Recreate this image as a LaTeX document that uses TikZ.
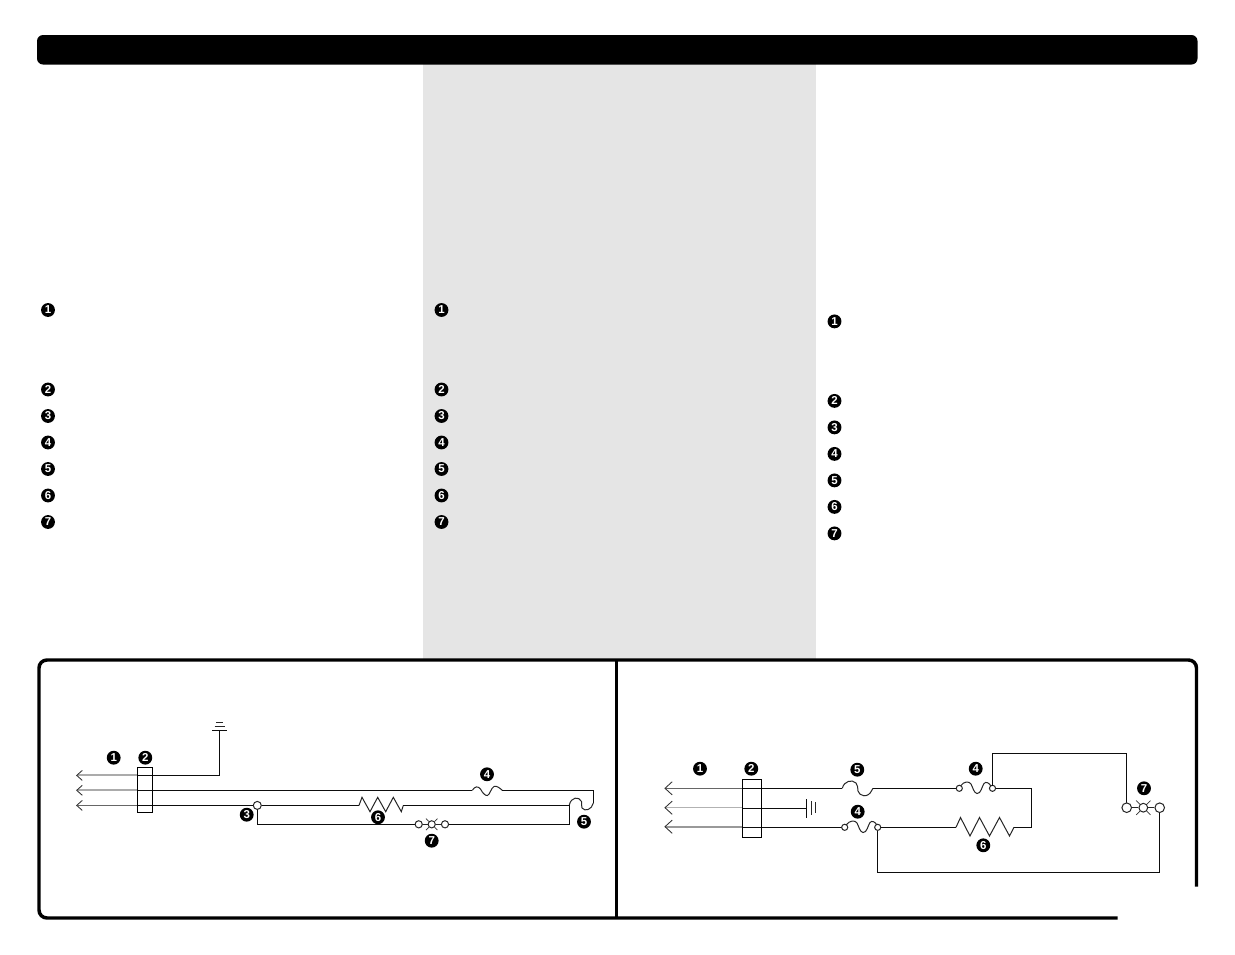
\documentclass[tikz,border=0pt]{standalone}
\usepackage{fontspec}
\setmainfont{Liberation Sans}
\tikzset{
  x=0.75pt,y=-0.75pt,
  badge/.style={circle,fill=black,text=white,inner sep=0pt,minimum size=10.4pt,font=\fontsize{8.6}{9}\selectfont\bfseries},
  wire/.style={line width=1.1pt,draw=black!95},
  part/.style={line width=0.75pt,draw=black!85},
  leadthick/.style={line width=1.6pt,draw=black!33},
  leadthin/.style={line width=1.1pt,draw=black!60},
  headline/.style={line width=0.65pt,draw=black!80},
  frame/.style={line width=2.6pt,draw=black},
  lug/.style={circle,draw=black!85,fill=white,line width=0.75pt,inner sep=0pt},
  lugs/.style={lug,minimum size=4.6pt},
  lugm/.style={lug,minimum size=5.4pt},
  ray/.style={line width=0.55pt,draw=black!80},
}
\newcommand{\arrowhead}[3]{\draw[headline] (#1+#3,#2-#3+0.6) -- (#1,#2) -- (#1+#3,#2+#3-0.6);}
\begin{document}
\begin{tikzpicture}
\useasboundingbox (0,0) rectangle (1235,954);
\fill[white] (0,0) rectangle (1235,954);
\fill[black!10] (423,60) rectangle (816,660);
\fill[black,rounded corners=4.5pt] (37,35) rectangle (1197.5,64.5);
% frame
\coordinate (fbr) at (1117.7,918);
\coordinate (ftr) at (1196.5,886.7);
\draw[frame,rounded corners=6pt] (fbr) -- (39,918) -- (39,660) -- (1196.5,660) -- (ftr);
\coordinate (dt) at (616.5,660);
\coordinate (db) at (616.5,918);
\draw[frame] (dt) -- (db);
% legend badges
\foreach \c/\x/\d in {a/48/0,b/441.5/0,c/834.5/11.4}{
  \foreach \n/\y in {1/310,2/389.5,3/416,4/442.5,5/469,6/495.5,7/522}{
    \node[badge] (\c\n) at (\x,\y+\d) {\n};
  }
}
% LEFT DIAGRAM
\coordinate (l1) at (76.7,775.4);
\coordinate (l2) at (76.7,790.3);
\coordinate (l3) at (76.7,805.4);
\coordinate (l1b) at (137.5,775.4);
\coordinate (l2b) at (137.5,790.3);
\coordinate (l3b) at (137.5,805.4);
\draw[leadthick] (l1) ++(1,0) -- (l1b);
\draw[leadthick] (l2) ++(1,0) -- (l2b);
\draw[leadthin] (l3) ++(1,0) -- (l3b);
\arrowhead{76.7}{775.4}{5.6}
\arrowhead{76.7}{790.3}{5.6}
\arrowhead{76.7}{805.4}{5.6}
\coordinate (lg) at (219.3,731);
\draw[wire] (l1b) -- (219.3,775.4) -- (lg);
\draw[wire] (212,730.7) -- (226.7,730.7);
\draw[part] (214.5,726.5) -- (224.5,726.5);
\draw[part] (216,722.8) -- (223.2,722.8);
\node[lugm,minimum size=6pt] (l3j) at (257.3,805.4) {};
\draw[wire] (l3b) -- (l3j);
\draw[wire] (l2b) -- (472.3,790.3);
\draw[part] (472.3,790.3) .. controls (475,786) and (478,786) .. (480.5,789) .. controls (483,794) and (486,796) .. (487.5,795.5) .. controls (490,794.5) and (491,788) .. (494,786.5) .. controls (497,785.5) and (499.5,788) .. (502.3,790.3);
\draw[wire] (502.3,790.3) -- (593.3,790.3) -- (593.3,803);
% fuse 5 left
\draw[part] (593.3,803) .. controls (592,809.5) and (585,812) .. (582,808) .. controls (581,806) and (582,803) .. (581.5,801.5) .. controls (579,796) and (571,797) .. (569.3,805);
% resistor + lines
\draw[wire] (l3j) -- (359,805.4);
\draw[part] (359,805.4) -- (362,797.3) -- (370,811.7) -- (377.7,797.3) -- (385.7,811.7) -- (393.3,797.3) -- (401.3,811.7) -- (403.3,805.4);
\draw[wire] (403.3,805.4) -- (569.3,805.4) -- (569.3,824.3) -- (449,824.3);
\draw[wire] (l3j) -- (257.3,824.3) -- (415,824.3);
% lamp
\node[lugm] (ll1) at (418.7,824.3) {};
\node[lugm] (ll2) at (445,824.3) {};
\node[lugm] (ll3) at (431.7,824.3) {};
\draw[part] (ll1) -- (ll3);
\draw[part] (ll3) -- (ll2);
\foreach \a in {45,135,225,315}{\draw[ray] (ll3.\a) -- ++(-\a:4);}
% box
\node[draw=black,line width=0.85pt,fill=none,minimum width=15pt*0.75,minimum height=45pt*0.75,inner sep=0pt] (lbox) at (144.8,789.8) {};
% RIGHT DIAGRAM
\draw[leadthin] (666,788.3) -- (742.5,788.3);
\draw[leadthin,draw=black!30] (666,807.7) -- (742.5,807.7);
\draw[leadthick,draw=black!40] (666,826.7) -- (742.5,826.7);
\arrowhead{665}{788.3}{7.2}
\arrowhead{665}{807.7}{7.2}
\arrowhead{665}{826.7}{7.2}
\draw[wire] (742.5,788.3) -- (842.3,788.3);
\draw[part] (842.3,788.3) .. controls (844,781) and (852,779) .. (856,783) .. controls (858,785) and (857.5,788) .. (858,791) .. controls (859,796) and (868,799) .. (872,790) -- (873,788.3);
\draw[wire] (873,788.3) -- (957,788.3);
\draw[wire] (742.5,808.3) -- (806.3,808.3);
\draw[wire] (806.3,799.3) -- (806.3,817.7);
\draw[part] (811,801.3) -- (811,815.3);
\draw[part] (815.7,802.3) -- (815.7,812.7);
\draw[wire] (742.5,827.3) -- (842.5,827.3);
% fuse lower 4
\node[lugs] (rf1) at (844.7,827.3) {};
\node[lugs] (rf2) at (877.7,827.3) {};
\draw[part] (846,825) .. controls (850,820) and (855,820) .. (857,823) .. controls (859,827) and (860,832) .. (863,832.5) .. controls (867,833) and (868,825) .. (870,822.5) .. controls (872,820) and (875,822) .. (877,825);
\draw[wire] (rf2) -- (956,827.3);
\draw[wire] (rf2) -- (877.7,872.3) -- (1159.7,872.3);
\draw[part] (956,827.3) -- (960.5,817.5) -- (970,836) -- (979.5,817.5) -- (989.5,836) -- (999.5,817.5) -- (1009.5,836) -- (1014,827.3);
\draw[wire] (1014,827.3) -- (1031.3,827.3) -- (1031.3,788.3) -- (994.5,788.3);
% fuse upper 4
\node[lugs] (rg1) at (959.3,788.3) {};
\node[lugs] (rg2) at (992.5,788.3) {};
\draw[part] (960.5,786) .. controls (964,781) and (969,781) .. (971,784) .. controls (973,788) and (974,793) .. (977,793.5) .. controls (981,794) and (982,786) .. (984,783.5) .. controls (986,781) and (989,783) .. (991,786);
\draw[wire] (992.3,786) -- (992.3,753.3) -- (1126.7,753.3) -- (1126.7,803);
% lamp
\node[lug,minimum size=7.2pt] (rl1) at (1126.7,807.7) {};
\node[lug,minimum size=7.2pt] (rl2) at (1159.7,807.7) {};
\node[lug,minimum size=6.6pt] (rl3) at (1143.3,807.7) {};
\draw[part] (rl1) -- (rl3);
\draw[part] (rl3) -- (rl2);
\foreach \a in {45,135,225,315}{\draw[ray] (rl3.\a) -- ++(-\a:5.2);}
\draw[wire] (rl2) -- (1159.7,872.3);
\node[draw=black,line width=0.85pt,minimum width=19pt*0.75,minimum height=58pt*0.75,inner sep=0pt] (rbox) at (751.8,808.3) {};
% badges in diagrams
\foreach \n/\t/\x/\y in {p1/1/113.7/757.7,p2/2/145.3/757.7,p3/3/246.7/814.7,p4/4/487/774.3,p5/5/584/821.7,p6/6/378/817.3,p7/7/431.7/840.7,
q1/1/700/768.7,q2/2/751.3/768.7,q5/5/857.3/769.7,q4/4/857.7/811.7,q8/4/975.7/768.7,q7/7/1144/788.3,q6/6/983.3/845.3}{
  \node[badge] (\n) at (\x,\y) {\t};
}
\end{tikzpicture}
\end{document}
